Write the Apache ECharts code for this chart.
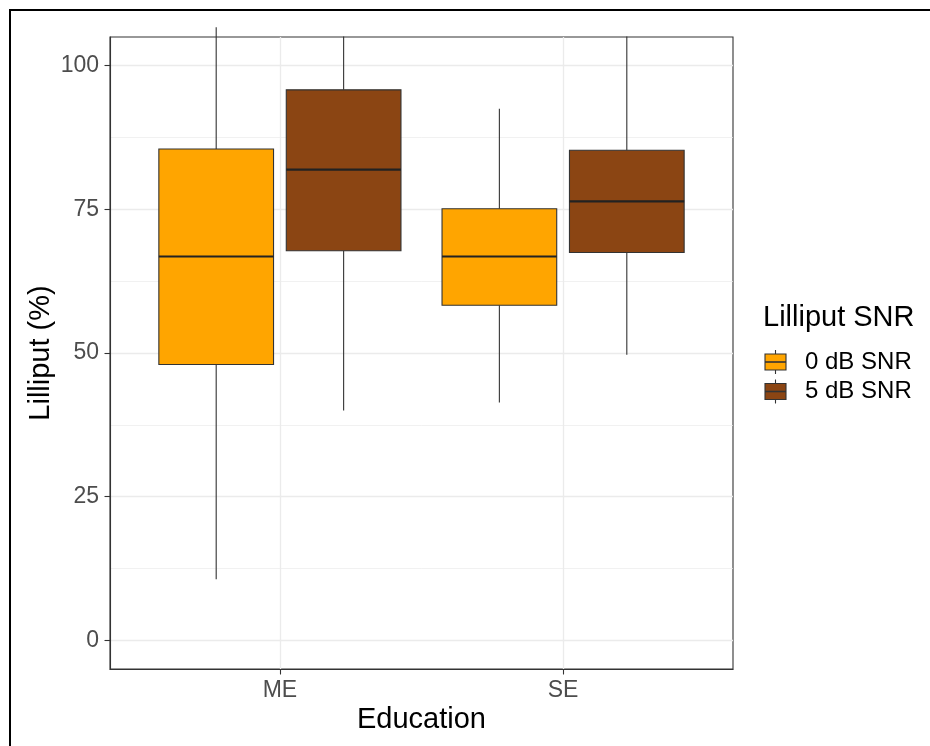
<!DOCTYPE html>
<html>
<head>
<meta charset="utf-8">
<script src="https://cdn.jsdelivr.net/npm/echarts@6/dist/echarts.min.js"></script>
<style>
  html, body { margin: 0; padding: 0; background: #ffffff; }
  #chart { width: 930px; height: 746px; }
</style>
</head>
<body>
<div id="chart"></div>
<script>
// Education groups on the x axis
const categories = ['ME', 'SE'];
// Fill groups (Lilliput SNR)
const groups = ['0 dB SNR', '5 dB SNR'];
const groupColors = ['#FFA500', '#8B4513'];
// Box statistics per education group: [lower whisker, Q1, median, Q3, upper whisker]
const snr0 = [
  [10.6, 48.0, 66.8, 85.5, 106.7],
  [41.4, 58.3, 66.8, 75.1, 92.5]
];
const snr5 = [
  [40.0, 67.8, 81.9, 95.8, 105.1],
  [49.7, 67.5, 76.4, 85.3, 105.1]
];
// Y axis ticks
const yTicks = [0, 25, 50, 75, 100];
const yMinorTicks = [12.5, 37.5, 62.5, 87.5];

const dodge = [-0.225, 0.225];
const halfBox = 0.2025;

function makeSeries(name, stats, gi) {
  return {
    name: name,
    type: 'custom',
    clip: false,
    data: stats.map((s, i) => [i + 1].concat(s)),
    renderItem: function (params, api) {
      const x = api.value(0) + dodge[gi];
      const lo = api.value(1), q1 = api.value(2), md = api.value(3), q3 = api.value(4), hi = api.value(5);
      const tl = api.coord([x - halfBox, q3]);
      const br = api.coord([x + halfBox, q1]);
      const cx = api.coord([x, md])[0];
      const yMd = api.coord([x, md])[1];
      const yLo = api.coord([x, lo])[1];
      const yHi = api.coord([x, hi])[1];
      const lineStyle = { stroke: '#333333', lineWidth: 1.1 };
      return {
        type: 'group',
        children: [
          { type: 'line', shape: { x1: cx, y1: yHi, x2: cx, y2: tl[1] }, style: lineStyle },
          { type: 'line', shape: { x1: cx, y1: br[1], x2: cx, y2: yLo }, style: lineStyle },
          { type: 'rect', shape: { x: tl[0], y: tl[1], width: br[0] - tl[0], height: br[1] - tl[1] },
            style: { fill: groupColors[gi], stroke: '#333333', lineWidth: 1.1 } },
          { type: 'line', shape: { x1: tl[0], y1: yMd, x2: br[0], y2: yMd },
            style: { stroke: '#222222', lineWidth: 2.2 } }
        ]
      };
    }
  };
}

// Legend keys drawn as small boxplot glyphs
function legendKey(cy, color, label) {
  return [
    { type: 'line', shape: { x1: 775.5, y1: cy - 12, x2: 775.5, y2: cy + 12 }, style: { stroke: '#333333', lineWidth: 1.1 } },
    { type: 'rect', shape: { x: 765, y: cy - 8, width: 21, height: 16 }, style: { fill: color, stroke: '#333333', lineWidth: 1.1 } },
    { type: 'line', shape: { x1: 765, y1: cy, x2: 786, y2: cy }, style: { stroke: '#333333', lineWidth: 1.6 } },
    { type: 'text', style: { x: 805, y: cy, text: label, fill: '#000000', font: '24px "Liberation Sans", Arial, sans-serif', textVerticalAlign: 'middle' } }
  ];
}

const chart = echarts.init(document.getElementById('chart'), null, { renderer: 'canvas' });
chart.setOption({
  backgroundColor: '#ffffff',
  animation: false,
  textStyle: { fontFamily: '"Liberation Sans", Arial, sans-serif' },
  grid: { left: 110, top: 37, width: 623, height: 632, show: true, borderColor: '#333333', borderWidth: 1.1, backgroundColor: 'transparent' },
  xAxis: [{
    type: 'value', min: 0.4, max: 2.6, position: 'bottom',
    name: 'Education', nameLocation: 'middle', nameGap: 36, nameMoveOverlap: false,
    nameTextStyle: { fontSize: 29, color: '#000000' },
    axisLine: { show: true, onZero: false, lineStyle: { color: '#333333', width: 1.1 } },
    axisTick: { show: true, length: 5.5, customValues: categories.map((c, i) => i + 1), lineStyle: { color: '#333333', width: 1.1 } },
    axisLabel: { customValues: categories.map((c, i) => i + 1), formatter: v => categories[Math.round(v) - 1] || '', fontSize: 23, color: '#4D4D4D', margin: 10 },
    splitLine: { show: true, lineStyle: { color: '#EBEBEB', width: 1.3 } }
  }],
  yAxis: [{
    type: 'value', min: -5, max: 105,
    name: 'Lilliput (%)', nameLocation: 'middle', nameGap: 55, nameRotate: 90, nameMoveOverlap: false,
    nameTextStyle: { fontSize: 29, color: '#000000' },
    axisLine: { show: true, onZero: false, lineStyle: { color: '#333333', width: 1.1 } },
    axisTick: { show: true, length: 5.5, customValues: yTicks, lineStyle: { color: '#333333', width: 1.1 } },
    axisLabel: { customValues: yTicks, fontSize: 23, color: '#4D4D4D', margin: 11 },
    splitLine: { show: true, lineStyle: { color: '#EBEBEB', width: 1.3 } }
  }, {
    type: 'value', min: -5, max: 105, position: 'left',
    axisLine: { show: false, onZero: false },
    axisTick: { show: false, customValues: yMinorTicks },
    axisLabel: { show: false, customValues: yMinorTicks },
    splitLine: { show: true, lineStyle: { color: '#EBEBEB', width: 0.7 } }
  }],
  series: [makeSeries(groups[0], snr0, 0), makeSeries(groups[1], snr5, 1)],
  graphic: [
    { type: 'rect', silent: true, shape: { x: 10, y: 10, width: 1000, height: 1000 }, style: { fill: 'none', stroke: '#000000', lineWidth: 2 } },
    { type: 'text', style: { x: 763, y: 318, text: 'Lilliput SNR', fill: '#000000', font: '29px "Liberation Sans", Arial, sans-serif', textVerticalAlign: 'middle' } }
  ].concat(legendKey(362, groupColors[0], groups[0]), legendKey(391.5, groupColors[1], groups[1]))
});
</script>
</body>
</html>
